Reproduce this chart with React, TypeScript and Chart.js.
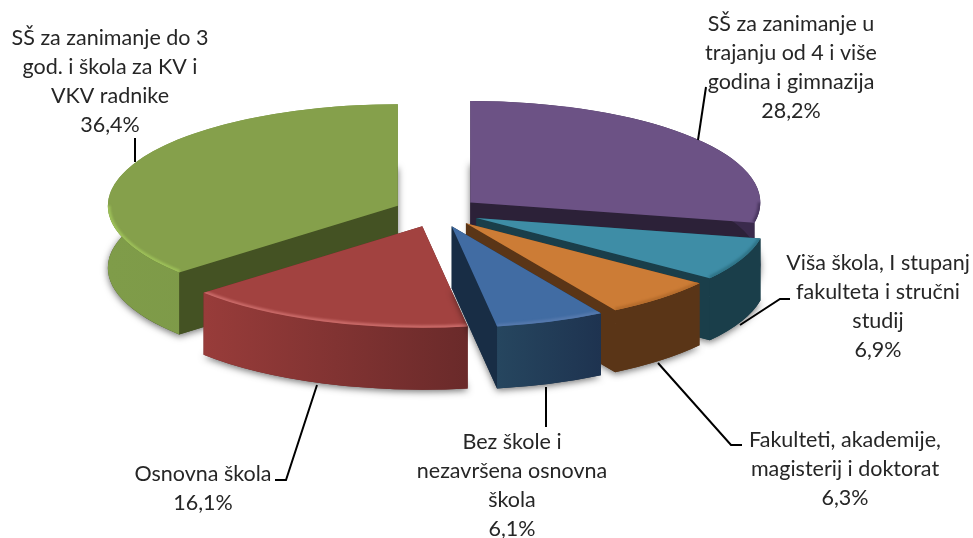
import React, { useEffect, useRef } from "react";
import { Chart, registerables } from "chart.js";

Chart.register(...registerables);

const categories = [
  "SŠ za zanimanje u trajanju od 4 i više godina i gimnazija",
  "Viša škola, I stupanj fakulteta i stručni studij",
  "Fakulteti, akademije, magisterij i doktorat",
  "Bez škole i nezavršena osnovna škola",
  "Osnovna škola",
  "SŠ za zanimanje do 3 god. i škola za KV i VKV radnike",
];
const shares = [28.2, 6.9, 6.3, 6.1, 16.1, 36.4];
const valueLabels = ["28,2%", "6,9%", "6,3%", "6,1%", "16,1%", "36,4%"];
const labelLines = [
  ["SŠ za zanimanje u", "trajanju od 4 i više", "godina i gimnazija"],
  ["Viša škola, I stupanj", "fakulteta i stručni", "studij"],
  ["Fakulteti, akademije,", "magisterij i doktorat"],
  ["Bez škole i", "nezavršena osnovna", "škola"],
  ["Osnovna škola"],
  ["SŠ za zanimanje do 3", "god. i škola za KV i", "VKV radnike"],
];

const topColors = ["#6C5285", "#3E8DA6", "#CC7C36", "#416CA3", "#A24240", "#85A04B"];
const cutColors = ["#2C2138", "#1A3E4A", "#5A3517", "#182D45", "#6A2828", "#445223"];
const wallStops = [
  ["#3A2A4C", "#3A2A4C"],
  ["#1A3E4A", "#1A3E4A"],
  ["#5A3517", "#5A3517"],
  ["#26465F", "#1E3350"],
  ["#983C3A", "#6A2A2A"],
  ["#7F9C49", "#7B9647"],
];
const rimColors = ["#4A3760", "#2F7488", "#B56C2C", "#5579AD", "#C96A68", "#9DC059"];

const drawOrder = [5, 0, 1, 4, 2, 3];
const labelX = [791, 878, 845, 512, 203, 110];
const labelY = [24, 263, 440, 442, 474, 38];
const leaderPaths: number[][][] = [
  [[706, 87], [698, 140]],
  [[740, 325], [780, 299], [790, 299]],
  [[658, 363], [731, 445], [742, 445]],
  [[546, 387], [546, 427]],
  [[317, 385], [286, 480], [275, 480]],
  [[135, 138], [135, 162]],
];

const SQUASH = 0.35;
const DEPTH = 62;
const EXPLODE = 43;
const LINE_H = 29;
const FONT = '21.5px Lato, "Open Sans", sans-serif';

const pie3d = {
  id: "pie3d",
  beforeDatasetDraw(chart: any, args: any) {
    const ctx: CanvasRenderingContext2D = chart.ctx;
    const arcs = args.meta.data;
    for (const i of drawOrder) {
      const arc = arcs[i];
      const mid = (arc.startAngle + arc.endAngle) / 2;
      const cx = arc.x + Math.cos(mid) * EXPLODE;
      const cy = arc.y + Math.sin(mid) * EXPLODE * SQUASH;
      const r = arc.outerRadius;
      const a0 = arc.startAngle;
      const a1 = arc.endAngle;
      const sector = (dy: number) => {
        ctx.beginPath();
        ctx.moveTo(cx, cy + dy);
        ctx.ellipse(cx, cy + dy, r, r * SQUASH, 0, a0, a1);
        ctx.closePath();
      };
      const px = (a: number) => cx + r * Math.cos(a);
      const py = (a: number) => cy + r * SQUASH * Math.sin(a);

      // soft shadow from the base of the slice
      ctx.save();
      ctx.shadowColor = "rgba(0,0,0,0.55)";
      ctx.shadowBlur = 7;
      ctx.shadowOffsetY = 2;
      ctx.fillStyle = cutColors[i];
      sector(DEPTH);
      ctx.fill();
      ctx.restore();

      // cut faces
      ctx.fillStyle = cutColors[i];
      for (const a of [a0, a1]) {
        ctx.beginPath();
        ctx.moveTo(cx, cy);
        ctx.lineTo(px(a), py(a));
        ctx.lineTo(px(a), py(a) + DEPTH);
        ctx.lineTo(cx, cy + DEPTH);
        ctx.closePath();
        ctx.fill();
      }

      // outer wall
      const xs = [px(a0), px(a1)];
      if (a0 < Math.PI && a1 > Math.PI) xs.push(cx - r);
      if (a0 < 0 && a1 > 0) xs.push(cx + r);
      const g = ctx.createLinearGradient(Math.min(...xs), 0, Math.max(...xs), 0);
      g.addColorStop(0, wallStops[i][0]);
      g.addColorStop(1, wallStops[i][1]);
      ctx.fillStyle = g;
      ctx.beginPath();
      ctx.ellipse(cx, cy, r, r * SQUASH, 0, a0, a1);
      ctx.ellipse(cx, cy + DEPTH, r, r * SQUASH, 0, a1, a0, true);
      ctx.closePath();
      ctx.fill();

      // the top face is the library's own arc element, squashed and moved out
      ctx.save();
      ctx.translate(arc.x, arc.y);
      ctx.scale(1, SQUASH);
      ctx.translate(Math.cos(mid) * EXPLODE, Math.sin(mid) * EXPLODE);
      ctx.translate(-arc.x, -arc.y);
      arc.draw(ctx);
      ctx.restore();

      // bevel along the front of the rim
      const f0 = Math.max(a0, 0);
      const f1 = Math.min(a1, Math.PI);
      if (f1 > f0) {
        ctx.save();
        sector(0);
        ctx.clip();
        ctx.strokeStyle = rimColors[i];
        ctx.lineWidth = 5;
        ctx.filter = "blur(1px)";
        ctx.beginPath();
        ctx.ellipse(cx, cy, r, r * SQUASH, 0, f0, f1);
        ctx.stroke();
        ctx.restore();
      }
    }
    return false;
  },
  afterDatasetsDraw(chart: any) {
    const ctx: CanvasRenderingContext2D = chart.ctx;
    ctx.save();
    ctx.strokeStyle = "#000";
    ctx.lineWidth = 2;
    for (const path of leaderPaths) {
      ctx.beginPath();
      path.forEach(([x, y], j) => (j ? ctx.lineTo(x, y) : ctx.moveTo(x, y)));
      ctx.stroke();
    }
    ctx.fillStyle = "#262626";
    ctx.font = FONT;
    ctx.textAlign = "center";
    ctx.textBaseline = "middle";
    labelLines.forEach((lines, i) => {
      [...lines, valueLabels[i]].forEach((t, j) => {
        ctx.fillText(t, labelX[i], labelY[i] + j * LINE_H);
      });
    });
    ctx.restore();
  },
};

export default function App() {
  const ref = useRef<HTMLCanvasElement>(null);
  useEffect(() => {
    const chart = new Chart(ref.current!, {
      type: "pie",
      data: {
        labels: categories,
        datasets: [
          {
            data: shares,
            backgroundColor: topColors,
            borderWidth: 0,
            radius: 290,
            clip: false,
          } as any,
        ],
      },
      options: {
        animation: false,
        responsive: false,
        layout: { padding: { right: 99, bottom: 114 } },
        plugins: { legend: { display: false }, tooltip: { enabled: false } },
      },
      plugins: [pie3d],
    } as any);
    return () => chart.destroy();
  }, []);
  return (
    <div style={{ position: "absolute", left: 0, top: 0, width: 973, height: 538, background: "#fff" }}>
      <canvas ref={ref} width={973} height={538} style={{ display: "block" }} />
    </div>
  );
}
